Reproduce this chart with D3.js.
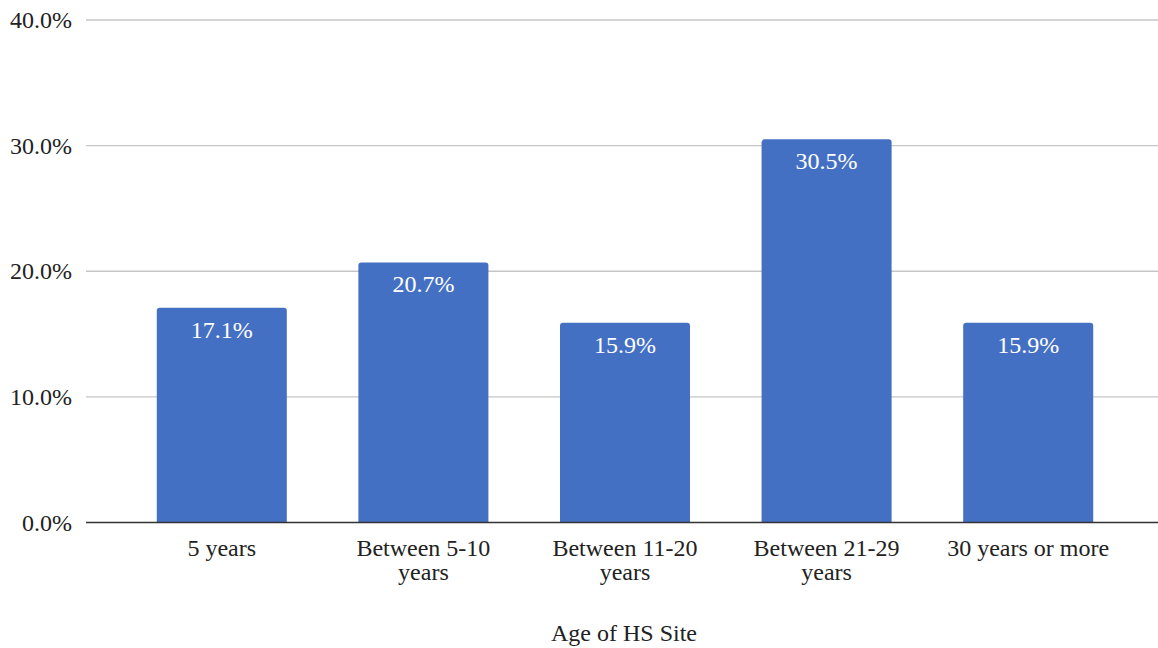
<!DOCTYPE html>
<html>
<head>
<meta charset="utf-8">
<script src="https://cdn.jsdelivr.net/npm/d3@7/dist/d3.min.js"></script>
<style>
  html, body { margin: 0; padding: 0; background: #fff; }
  svg { display: block; }
  svg text { font-family: "Times New Roman", "Liberation Serif", Tinos, "DejaVu Serif", serif !important; }
</style>
</head>
<body>
<svg id="chart" width="1158" height="648"></svg>
<script>
// Share of HS sites by age
const categories = [["5 years"], ["Between 5-10", "years"], ["Between 11-20", "years"], ["Between 21-29", "years"], ["30 years or more"]];
const values = [17.1, 20.7, 15.9, 30.5, 15.9];
const yTicks = [0, 10, 20, 30, 40];
const xTitle = "Age of HS Site";

const svg = d3.select("#chart");
const gridLeft = 86, gridRight = 1158;
const plotTop = 20, plotBottom = 522.5;
const fontSize = 24;

const keys = categories.map(c => c.join(" "));

const x = d3.scaleBand()
  .domain(keys)
  .range([121, 1129])
  .paddingInner(0.355)
  .paddingOuter(0.1775);

const y = d3.scaleLinear()
  .domain([0, 40])
  .range([plotBottom, plotTop]);

// horizontal gridlines
svg.append("g")
  .selectAll("line")
  .data(yTicks.filter(t => t > 0))
  .join("line")
  .attr("x1", gridLeft).attr("x2", gridRight)
  .attr("y1", d => y(d)).attr("y2", d => y(d))
  .attr("stroke", "#c6c6c6")
  .attr("stroke-width", 1.3);

// y-axis labels
const yAxis = d3.axisLeft(y)
  .tickValues(yTicks)
  .tickFormat(d => d.toFixed(1) + "%")
  .tickSize(0)
  .tickPadding(0);
const yg = svg.append("g").attr("transform", `translate(72,0)`).call(yAxis);
yg.attr("font-size", fontSize);
yg.select(".domain").remove();
yg.selectAll("text")
  .attr("fill", "#222")
  .attr("dy", "0.32em");

// bars with slightly rounded tops
const r = 3;
svg.append("g")
  .selectAll("path")
  .data(values)
  .join("path")
  .attr("fill", "#4470c4")
  .attr("d", (d, i) => {
    const x0 = x(keys[i]), w = x.bandwidth();
    const y0 = y(d), y1 = y(0);
    return `M${x0},${y1}V${y0 + r}Q${x0},${y0} ${x0 + r},${y0}H${x0 + w - r}Q${x0 + w},${y0} ${x0 + w},${y0 + r}V${y1}Z`;
  });

// value labels inside the bars
svg.append("g")
  .selectAll("text")
  .data(values)
  .join("text")
  .attr("x", (d, i) => x(keys[i]) + x.bandwidth() / 2)
  .attr("y", d => y(d) + 30)
  .attr("text-anchor", "middle")
  .attr("font-size", fontSize)
  .attr("fill", "#fff")
  .text(d => d.toFixed(1) + "%");

// baseline
svg.append("line")
  .attr("x1", gridLeft).attr("x2", gridRight)
  .attr("y1", y(0)).attr("y2", y(0))
  .attr("stroke", "#333")
  .attr("stroke-width", 1.3);

// category labels
const xl = svg.append("g")
  .selectAll("text")
  .data(categories)
  .join("text")
  .attr("x", (d, i) => x(keys[i]) + x.bandwidth() / 2)
  .attr("y", 556)
  .attr("text-anchor", "middle")
  .attr("font-size", fontSize)
  .attr("fill", "#222");
xl.selectAll("tspan")
  .data(d => d)
  .join("tspan")
  .attr("x", function () { return d3.select(this.parentNode).attr("x"); })
  .attr("dy", (d, i) => i === 0 ? 0 : 24)
  .text(d => d);

// axis title
svg.append("text")
  .attr("x", 624)
  .attr("y", 641)
  .attr("text-anchor", "middle")
  .attr("font-size", fontSize)
  .attr("fill", "#222")
  .text(xTitle);
</script>
</body>
</html>
